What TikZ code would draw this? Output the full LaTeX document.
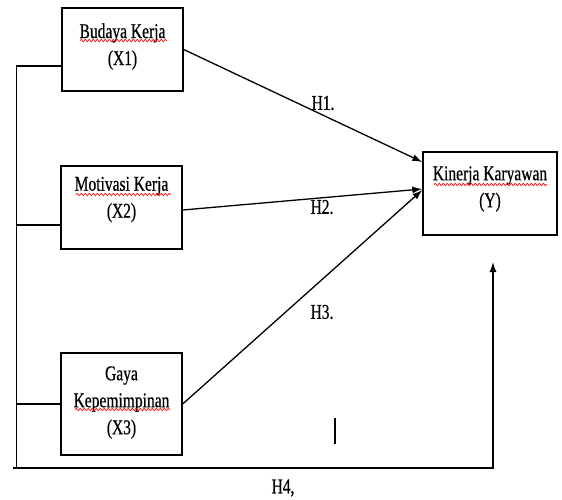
\documentclass[tikz,border=0pt]{standalone}
\usepackage{fontspec}
\setmainfont[FakeStretch=0.74,FakeBold=0.6]{Liberation Serif}
\usetikzlibrary{arrows.meta,decorations.pathmorphing}
\begin{document}
\begin{tikzpicture}[x=1pt,y=-1pt,
  varbox/.style={draw, line width=1.4pt, inner sep=0pt, minimum width=121pt, minimum height=83pt},
  vartext/.style={align=center, inner sep=0pt, font=\fontsize{21}{27}\selectfont},
  hyp/.style={inner sep=0pt, font=\fontsize{21}{27}\selectfont},
  wire/.style={line width=1.3pt},
  effect/.style={line width=1.3pt, -{Latex[length=10pt,width=7pt]}},
  spell/.style={red, line width=0.7pt, decorate, decoration={snake, amplitude=1.1pt, segment length=4pt}}]
\useasboundingbox (0,0) rectangle (562,500);
% variable boxes
\node (budaya) at (122.5,49.5) [varbox] {};
\node (budayatext) at (122.5,46.5) [vartext] {Budaya Kerja\\(X1)};
\node (motivasi) at (121.5,207.5) [varbox] {};
\node (motivasitext) at (121.5,199.5) [vartext] {Motivasi Kerja\\(X2)};
\node (gaya) at (121.5,404) [varbox, minimum height=102pt] {};
\node (gayatext) at (121.5,402.5) [vartext] {Gaya\\Kepemimpinan\\(X3)};
\node (kinerja) at (490,193.5) [varbox, minimum width=134pt] {};
\node (kinerjatext) at (490,189) [vartext] {Kinerja Karyawan\\(Y)};
% spelling marks
\draw [spell] (80,40.5) -- (167,40.5);
\draw [spell] (76,194.5) -- (171,194.5);
\draw [spell] (75,409.5) -- (170,409.5);
\draw [spell] (434,184.5) -- (547,184.5);
% partial paths
\draw [effect] (budaya.east) -- ([yshift=31.5pt]kinerja.west);
\draw [effect] ([yshift=-2.5pt]motivasi.east) -- ([yshift=4.5pt]kinerja.west);
\draw [effect] (gaya.east) -- ([yshift=3.5pt]kinerja.west);
\node (h1) at (323,103) [hyp] {H1.};
\node (h2) at (322,207) [hyp] {H2.};
\node (h3) at (322,312) [hyp] {H3.};
% simultaneous path
\draw [wire] ([yshift=-16.5pt]budaya.west) -- +(-45,0) coordinate (bustop);
\draw [wire] ([yshift=-17.5pt]motivasi.west) -- +(-44,0);
\draw [wire] (gaya.west) -- +(-44.5,0);
\coordinate (busend) at (13,468);
\coordinate (h4end) at (493,262);
\draw [wire] (bustop) -- (bustop |- busend);
\draw [effect] (busend) -| (h4end);
\node (h4) at (283,488) [hyp] {H4,};
\draw [wire] (335,418) -- (335,444);
\end{tikzpicture}
\end{document}
